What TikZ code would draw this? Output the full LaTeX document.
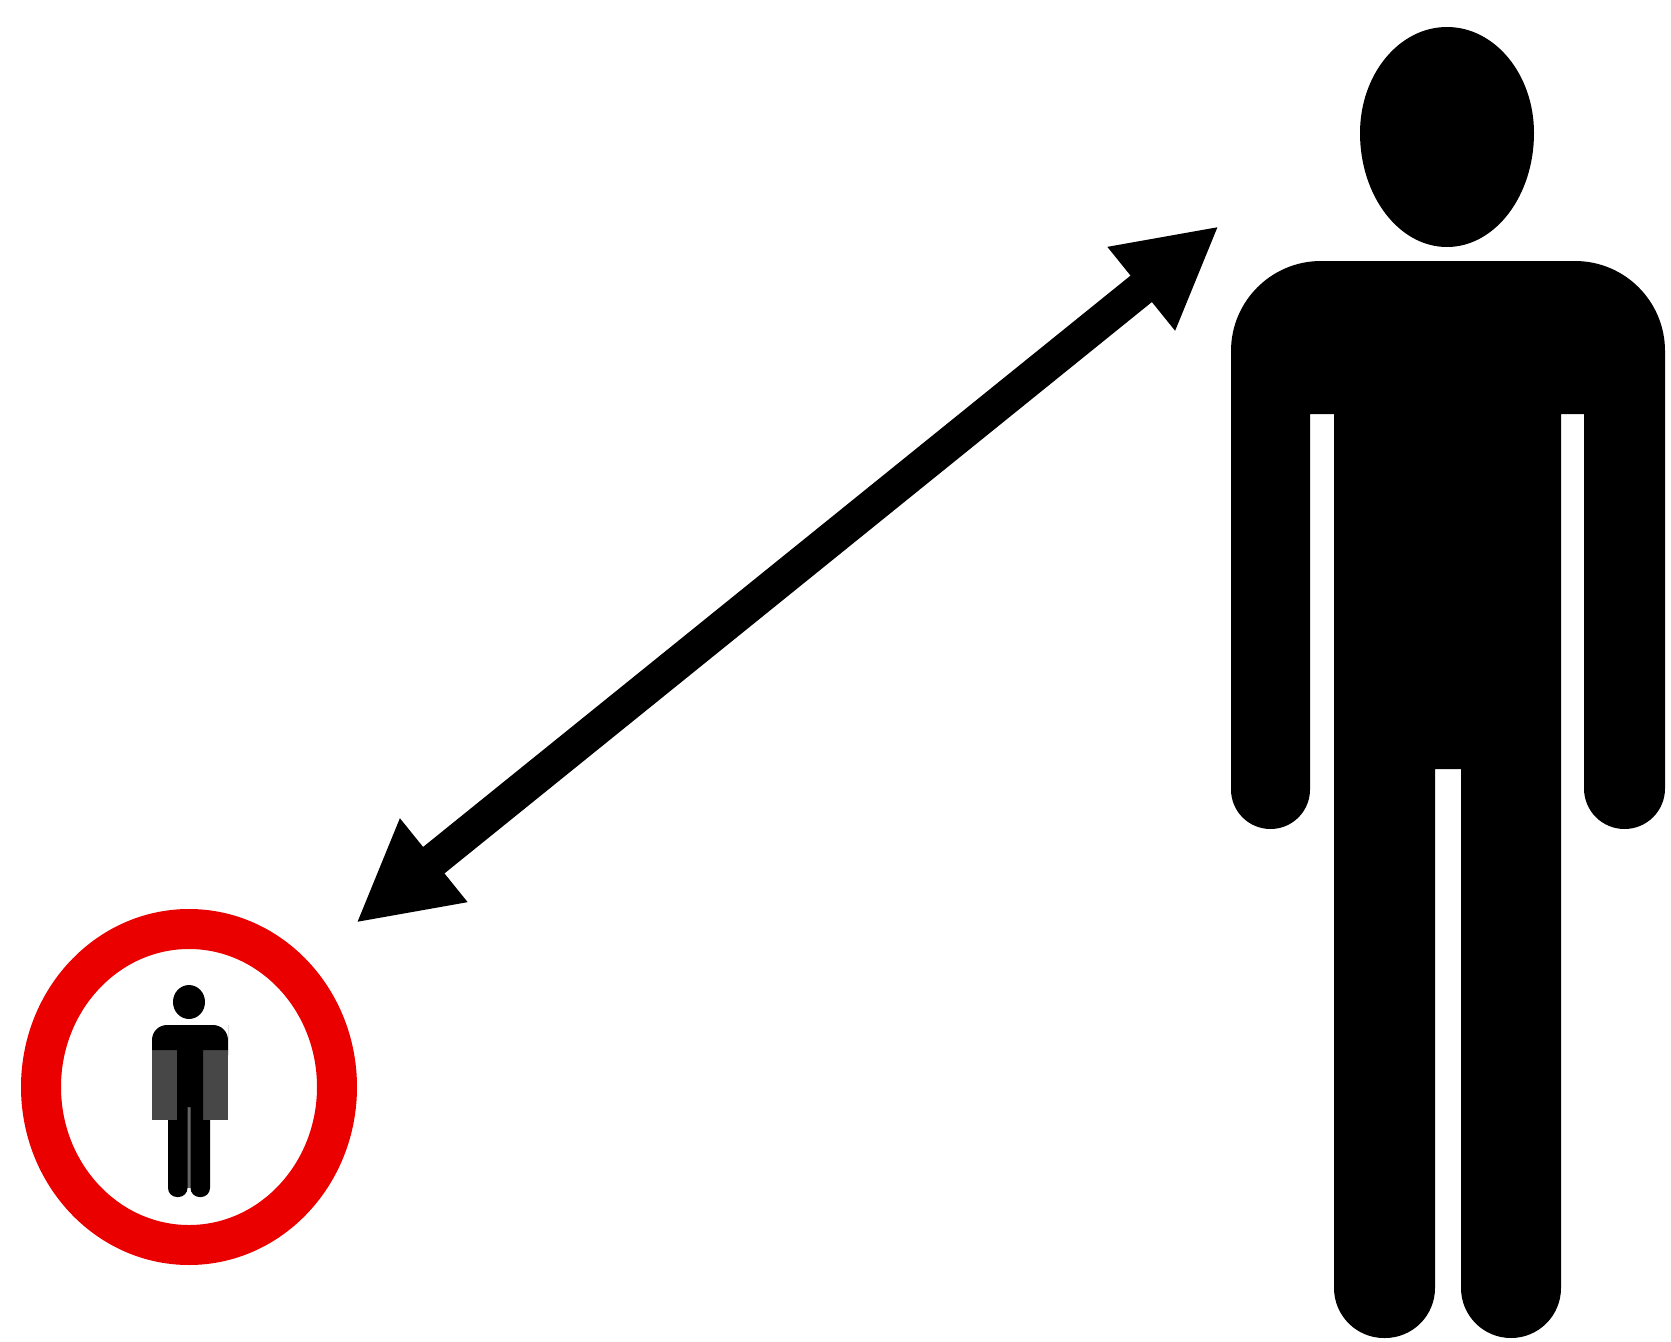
\documentclass[tikz,border=0pt]{standalone}
\usetikzlibrary{arrows.meta}

\begin{document}
\begin{tikzpicture}[x=0.02cm, y=-0.02cm]
  \useasboundingbox (0,0) rectangle (1671,1342);

  % big figure, head
  \fill[black] (1360,133) .. controls (1360,74.5) and (1399,27) .. (1447,27)
    .. controls (1495,27) and (1534,74.5) .. (1534,133)
    .. controls (1534,196) and (1495,247) .. (1447,247)
    .. controls (1399,247) and (1360,196) .. (1360,133) -- cycle;

  % big figure, body
  \fill[black] (1231,540) [rounded corners=1.8cm] -- (1231,261) -- (1665,261)
    -- (1665,540) [rounded corners=0.81cm] -- (1665,829) -- (1584,829)
    -- (1584,600) [sharp corners] -- (1584,414) -- (1561,414)
    -- (1561,800) [rounded corners=1cm] -- (1561,1338) -- (1461,1338)
    -- (1461,1000) [sharp corners] -- (1461,769) -- (1435,769)
    -- (1435,1000) [rounded corners=1cm] -- (1435,1338) -- (1334,1338)
    -- (1334,1000) [sharp corners] -- (1334,414) -- (1310,414)
    -- (1310,600) [rounded corners=0.79cm] -- (1310,829) -- (1231,829)
    -- (1231,700) [sharp corners] -- cycle;

  % red ring
  \draw[line width=0.8cm, red!92!black] (189,1087) ellipse [x radius=148, y radius=158];

  % small figure
  \fill[black!72] (152,1040) rectangle (228,1120);
  \fill[black!60] (187,1107) rectangle (191,1188);
  \fill[black] (189,1002) ellipse [x radius=16, y radius=17];
  \fill[black] (152,1050) [rounded corners=0.3cm] -- (152,1025) -- (228,1025)
    -- (228,1040) [sharp corners] -- (228,1050) -- (203,1050) -- (203,1120) -- (210,1120)
    -- (210,1170) [rounded corners=0.18cm] -- (210,1197) -- (190.5,1197)
    -- (190.5,1170) [sharp corners] -- (190.5,1107) -- (187.5,1107)
    -- (187.5,1170) [rounded corners=0.18cm] -- (187.5,1197) -- (168,1197)
    -- (168,1170) [sharp corners] -- (168,1120) -- (177,1120) -- (177,1050) -- cycle;

  % arrow between the two figures
  \coordinate (nearend) at (356,923);
  \coordinate (farend) at (1219,226);
  \draw[{Stealth[length=2cm, width=2cm, inset=0cm]}-{Stealth[length=2cm, width=2cm, inset=0cm]},
    line width=0.68cm, black] (nearend) -- (farend);
\end{tikzpicture}
\end{document}
